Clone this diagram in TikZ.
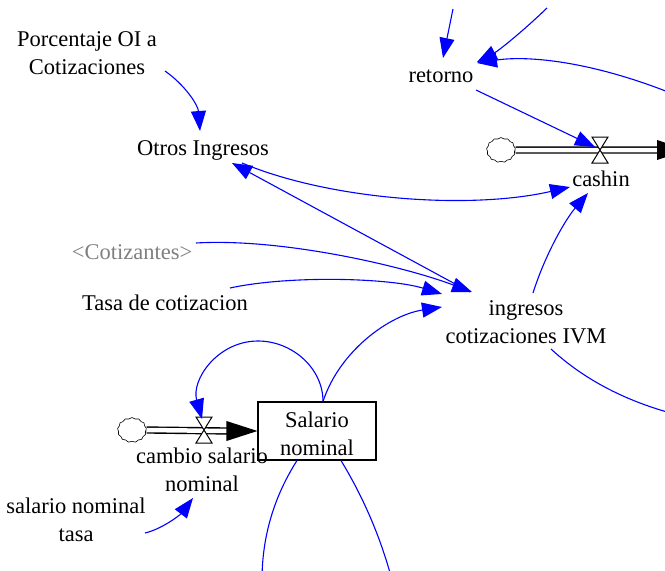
\documentclass[tikz,border=0pt]{standalone}
\usepackage{fontspec}
\setmainfont{Liberation Serif}
\usetikzlibrary{arrows.meta,shapes.symbols,calc}
\definecolor{linkblue}{RGB}{0,0,255}
\definecolor{shadowgray}{RGB}{128,128,128}
\begin{document}
\begin{tikzpicture}[x=1pt,y=-1pt,
  lbl/.style={inner sep=0pt, font=\fontsize{22.5pt}{27.5pt}\selectfont, align=center},
  one/.style={lbl, text height=0.7em, text depth=0.25em},
  link/.style={draw=linkblue, line width=1.1pt, -{Triangle[length=20pt,width=15pt]}},
  plain/.style={draw=linkblue, line width=1.1pt},
  pipe/.style={draw=black, double=white, double distance=4.5pt, line width=1.4pt},
  valvebox/.style={draw=black, fill=white, line width=1pt},
  cloudy/.style={cloud, cloud puffs=13, cloud puff arc=100, cloud ignores aspect, minimum width=29pt, minimum height=25pt, draw, fill=white, line width=0.6pt, inner sep=0pt},
  stock/.style={draw, line width=1.1pt, minimum width=118pt, minimum height=58pt, inner sep=0pt},
  valveshape/.pic={\draw[valvebox] (-8,-13) -- (8,-13) -- (-8,13) -- (8,13) -- cycle;}
]
\useasboundingbox (0,0) rectangle (665,571);
\clip (0,0) rectangle (665,571);

% nodes
\node[lbl] (pct) at (87,53) {Porcentaje OI a\\Cotizaciones};
\node[one] (otros) at (203,153) {Otros Ingresos};
\node[one] (retorno) at (441,80) {retorno};
\node[one] (cashin) at (601,184) {cashin};
\node[one, text=shadowgray] (cotiz) at (132,257) {<Cotizantes>};
\node[one] (tasa) at (165,308) {Tasa de cotizacion};
\node[lbl] (ing) at (526,322) {ingresos\\cotizaciones IVM};
\node[stock] (sal) at (317,431) {};
\node[lbl] (saltxt) at ($(sal)+(0,3)$) {Salario\\nominal};
\node[lbl] (cambio) at (202,470) {cambio salario\\nominal};
\node[lbl] (snt) at (76,520) {salario nominal\\tasa};

% free ends and flow points
\coordinate (t1) at (453,9);
\coordinate (t2) at (547,8);
\coordinate (t3) at (690,101);
\coordinate (e1) at (700,420);
\coordinate (e2) at (262,580);
\coordinate (e3) at (392,580);
\coordinate (out1) at (688,150);
\coordinate (v1) at (600,150);
\coordinate (v2) at (204,430);

% flows
\node[cloudy] (cl1) at (501,150) {};
\node[cloudy] (cl2) at (132,430) {};
\draw[pipe] (cl1.east) -- ($(out1)+(-29,0)$);
\fill[black] ($(out1)+(-31,-10)$) -- (out1) -- ($(out1)+(-31,10)$) -- cycle;
\draw[pipe] (cl2.east) -- ($(sal.west)+(-29,0)$);
\fill[black] ($(sal.west)+(-31,-10)$) -- (sal.west) -- ($(sal.west)+(-31,10)$) -- cycle;
\pic at (v1) {valveshape};
\pic at (v2) {valveshape};

% links
\draw[link] (t1) -- ($(retorno)+(2,-22)$);
\draw[link] (t2) .. controls (521,33) and (498,51) .. ($(retorno)+(36,-18)$);
\draw[link] (t3) .. controls (600,62) and (530,55) .. ($(retorno)+(36,-17)$);
\draw[link] ($(retorno)+(35,10)$) -- ($(v1)+(-5,-3)$);
\draw[link] ($(otros)+(39,10)$) .. controls (330,200) and (470,210) .. ($(cashin)+(-31,3)$);
\draw[link] ($(ing)+(-56,-30)$) -- ($(otros)+(29,10)$);
\draw[link] ($(cotiz)+(64,-14)$) .. controls (280,238) and (400,265) .. ($(ing)+(-54,-30)$);
\draw[link] ($(tasa)+(65,-20)$) .. controls (290,275) and (390,278) .. ($(ing)+(-84,-28)$);
\draw[link] ($(sal.north)+(6,0)$) .. controls (340,350) and (390,315) .. ($(ing)+(-84,-15)$);
\draw[link] ($(sal.north)+(6,0)$) .. controls (323,368) and (292,341) .. (258,341) .. controls (217.5,341) and (191,380) .. ($(v2)+(-2,-11)$);
\draw[link] ($(ing)+(7,-29)$) .. controls (545,255) and (565,220) .. ($(cashin)+(-13,9)$);
\draw[plain] ($(ing)+(25,27)$) .. controls (590,385) and (640,408) .. (e1);
\draw[link] ($(snt)+(69,13)$) .. controls (162,529) and (180,515) .. ($(cambio)+(-9,28)$);
\draw[link] ($(pct)+(78,18)$) .. controls (185,85) and (198,105) .. ($(otros)+(-3,-22)$);
\draw[plain] ($(sal.south)+(-20,0)$) .. controls (275,495) and (262,535) .. (e2);
\draw[plain] ($(sal.south)+(24,0)$) .. controls (362,495) and (380,535) .. (e3);
\end{tikzpicture}
\end{document}
